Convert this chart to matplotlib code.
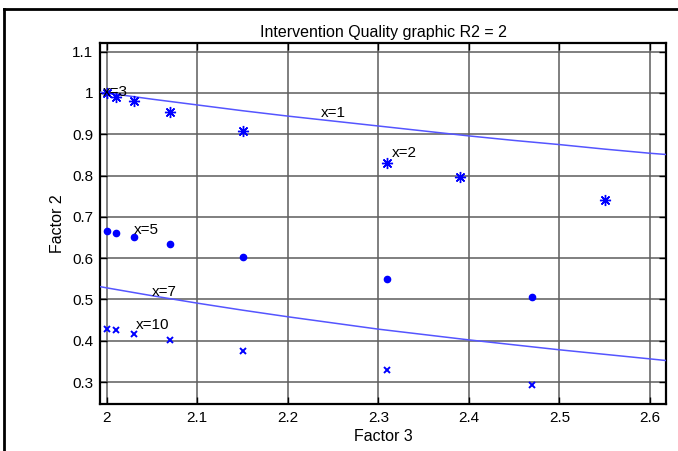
import matplotlib
matplotlib.use("Agg")
import matplotlib.pyplot as plt
from matplotlib.lines import Line2D

plt.rcParams['font.family'] = ['Liberation Sans', 'DejaVu Sans']

# Factor 3 positions of the observations
f3 = [2.0, 2.01, 2.03, 2.07, 2.15, 2.31, 2.39, 2.55]
f2_x3 = [1.0, 0.991, 0.981, 0.953, 0.908, 0.830, 0.797, 0.741]

f3_b = [2.0, 2.01, 2.03, 2.07, 2.15, 2.31, 2.47]
f2_x5 = [0.666, 0.661, 0.652, 0.634, 0.603, 0.549, 0.506]
f2_x10 = [0.428, 0.426, 0.416, 0.401, 0.375, 0.329, 0.292]

# Iso-quality curves
curve_f3 = [1.9926, 2.0, 2.05, 2.1, 2.15, 2.2, 2.25, 2.3, 2.35, 2.4, 2.45, 2.5, 2.55, 2.6, 2.6177]
curve_x1 = [1.002, 1.0, 0.985, 0.971, 0.957, 0.944, 0.932, 0.920, 0.908, 0.896, 0.885, 0.875, 0.864, 0.854, 0.851]
curve_x7 = [0.531, 0.528, 0.509, 0.491, 0.474, 0.458, 0.443, 0.428, 0.415, 0.402, 0.390, 0.378, 0.367, 0.356, 0.352]

labels = ["x=3", "x=1", "x=2", "x=5", "x=7", "x=10"]
label_pos = [(1.996, 1.003), (2.2367, 0.952), (2.315, 0.855),
             (2.030, 0.668), (2.050, 0.518), (2.0325, 0.438)]

xticks = [2.0, 2.1, 2.2, 2.3, 2.4, 2.5, 2.6]
xticklabels = ["2", "2.1", "2.2", "2.3", "2.4", "2.5", "2.6"]
yticks = [0.3, 0.4, 0.5, 0.6, 0.7, 0.8, 0.9, 1.0, 1.1]
yticklabels = ["0.3", "0.4", "0.5", "0.6", "0.7", "0.8", "0.9", "1", "1.1"]

fig = plt.figure(figsize=(6.78, 4.51), dpi=100)
ax = fig.add_axes([100 / 678, 1 - 403.6 / 451, 566 / 678, (403.6 - 43) / 451])

blue = '#0000ff'
ax.plot(curve_f3, curve_x1, color='#5555ff', lw=1.1, zorder=3)
ax.plot(curve_f3, curve_x7, color='#5555ff', lw=1.1, zorder=3)
ax.plot(f3, f2_x3, linestyle='none', marker=(8, 2, 0), ms=8, mew=1.0, color=blue, zorder=4)
ax.plot(f3_b, f2_x5, linestyle='none', marker='o', ms=4.5, color=blue, zorder=4)
ax.plot(f3_b, f2_x10, linestyle='none', marker='x', ms=4.5, mew=1.4, color=blue, zorder=4)

for txt, (px, py) in zip(labels, label_pos):
    ax.text(px, py, txt, fontsize=11, color='black', ha='left', va='center', zorder=5)

ax.set_xlim(1.9926, 2.6177)
ax.set_ylim(0.2477, 1.121)
ax.set_xticks(xticks)
ax.set_xticklabels(xticklabels)
ax.set_yticks(yticks)
ax.set_yticklabels(yticklabels)
ax.tick_params(direction='in', length=5, width=1, top=True, right=True, labelsize=11, pad=5, colors='black')
ax.grid(True, color='#5e5e5e', lw=1.3, alpha=0.85)
ax.set_axisbelow(True)
for s in ax.spines.values():
    s.set_linewidth(1.6)
    s.set_color('black')

ax.set_title("Intervention Quality graphic R2 = 2", fontsize=11.5, pad=4)
ax.set_xlabel("Factor 3", fontsize=11.5, labelpad=3)
ax.set_ylabel("Factor 2", fontsize=11.5, labelpad=5)

# outer frame (left and top edges)
fig.add_artist(Line2D([4 / 678, 4 / 678], [0, 1 - 9 / 451], transform=fig.transFigure, color='black', lw=2))
fig.add_artist(Line2D([4 / 678, 1], [1 - 9 / 451, 1 - 9 / 451], transform=fig.transFigure, color='black', lw=2))

fig.savefig("out.png", dpi=100)
